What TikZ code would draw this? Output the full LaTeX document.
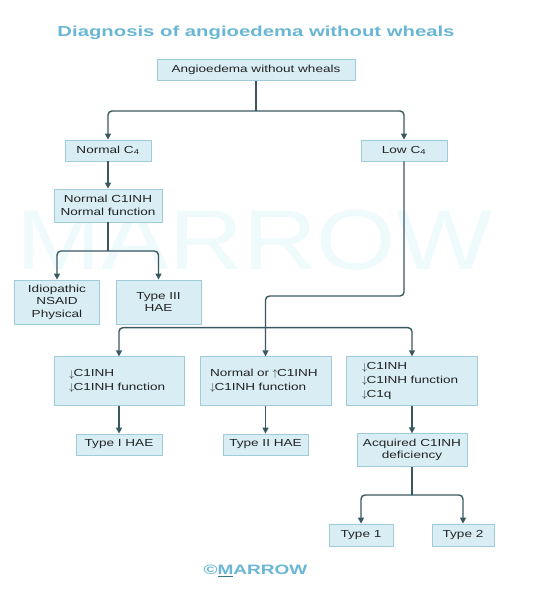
\documentclass[tikz,border=0pt]{standalone}
\usepackage{fontspec}
\setmainfont{Liberation Sans}[FakeStretch=1.33]
\newfontfamily\titlefont{Liberation Sans Bold}[FakeStretch=1.40]
\newfontfamily\wmfont{Liberation Sans}[FakeStretch=1.2]
\usetikzlibrary{arrows.meta}
\definecolor{boxfill}{RGB}{217,238,244}
\definecolor{boxline}{RGB}{160,204,218}
\definecolor{connc}{RGB}{58,88,98}
\definecolor{titleblue}{RGB}{105,183,212}
\definecolor{wmc}{RGB}{239,250,252}
\definecolor{txt}{RGB}{35,35,35}
\definecolor{uline}{RGB}{60,120,140}
\newcommand{\dnarr}{\raisebox{-0.3pt}{$\downarrow$}\kern-0.5pt}
\newcommand{\uparr}{\raisebox{0.3pt}{$\uparrow$}\kern-0.5pt}
\tikzset{
  box/.style={draw=boxline, fill=boxfill, line width=0.8pt, inner sep=0pt, text=txt,
    font=\fontsize{10.2}{12.6}\selectfont, align=center},
  lbox/.style={box, align=left, inner xsep=#1},
  arr/.style={draw=connc, line width=1.4pt, rounded corners=4pt, -{Triangle[length=6pt,width=6pt]}},
  ln/.style={draw=connc, line width=1.4pt, rounded corners=4pt}
}
\begin{document}
\begin{tikzpicture}[x=1pt,y=-1pt]
\useasboundingbox (0,0) rectangle (544,589);
\fill[white] (0,0) rectangle (544,589);
% watermark
\node[font=\wmfont\fontsize{85}{85}\selectfont, text=wmc, anchor=base, inner sep=0pt] (wm) at (254.5,269) {MARROW};
% title
\node[font=\titlefont\fontsize{14.5}{16}\selectfont, text=titleblue, inner sep=0pt] (title) at (256,33) {Diagnosis of angioedema without wheals};
% boxes
\node[box, minimum width=198pt, minimum height=21.5pt] (top) at (256,70) {Angioedema without wheals};
\node[box, minimum width=86pt, minimum height=21pt] (nc4) at (108,150.5) {Normal C\textsubscript{4}};
\node[box, minimum width=86pt, minimum height=21pt] (lc4) at (404,150.5) {Low C\textsubscript{4}};
\node[box, minimum width=108pt, minimum height=33pt] (nc1) at (108,205.5) {Normal C1INH\\Normal function};
\node[box, minimum width=85pt, minimum height=44pt] (idio) at (57,302) {Idiopathic\\NSAID\\Physical};
\node[box, minimum width=85pt, minimum height=44pt] (t3) at (158.5,302) {Type III\\HAE};
\node[lbox=15pt, text width=100pt, minimum height=48.5pt, font=\fontsize{10.2}{13.4}\selectfont] (ba) at (119,381) {\dnarr C1INH\\\dnarr C1INH function};
\node[lbox=10pt, text width=111pt, minimum height=48.5pt, font=\fontsize{10.2}{13.4}\selectfont] (bb) at (265.5,381) {Normal or \uparr C1INH\\\dnarr C1INH function};
\node[lbox=15.5pt, text width=100pt, minimum height=48.5pt, font=\fontsize{10.2}{13.6}\selectfont] (bc) at (412,381) {\dnarr C1INH\\\dnarr C1INH function\\\dnarr C1q};
\node[box, minimum width=86pt, minimum height=21pt] (t1) at (119,444.5) {Type I HAE};
\node[box, minimum width=85pt, minimum height=21pt] (t2) at (265.5,444.5) {Type II HAE};
\node[box, minimum width=110pt, minimum height=32.5pt] (acq) at (412,450) {Acquired C1INH\\deficiency};
\node[box, minimum width=64pt, minimum height=22pt] (ty1) at (361,535) {Type 1};
\node[box, minimum width=62pt, minimum height=22pt] (ty2) at (463,535) {Type 2};
% copyright
\node[font=\titlefont\fontsize{13.6}{15}\selectfont, text=titleblue, inner sep=0pt] (copy) at (255.5,571) {©\rlap{\color{uline}\underline{\phantom{M}}}MARROW};
% connectors
\coordinate (j1) at (256,111);
\draw[ln] (top.south) -- (j1);
\draw[arr] (j1) -| (nc4.north);
\draw[arr] (j1) -| (lc4.north);
\draw[arr] (nc4.south) -- (nc1.north);
\coordinate (j2) at (108,251);
\draw[ln] (nc1.south) -- (j2);
\draw[arr] (j2) -| (idio.north);
\draw[arr] (j2) -| (t3.north);
\coordinate (k1) at (265.5,296);
\draw[arr] (lc4.south) |- (k1) -- (bb.north);
\coordinate (j3) at (265.5,327.6);
\draw[arr] (j3) -| (ba.north);
\draw[arr] (j3) -| (bc.north);
\draw[arr] (ba.south) -- (t1.north);
\draw[arr] (bb.south) -- (t2.north);
\draw[arr] (bc.south) -- (acq.north);
\coordinate (j4) at (412,495);
\draw[ln] (acq.south) -- (j4);
\draw[arr] (j4) -| (ty1.north);
\draw[arr] (j4) -| (ty2.north);
\end{tikzpicture}
\end{document}
